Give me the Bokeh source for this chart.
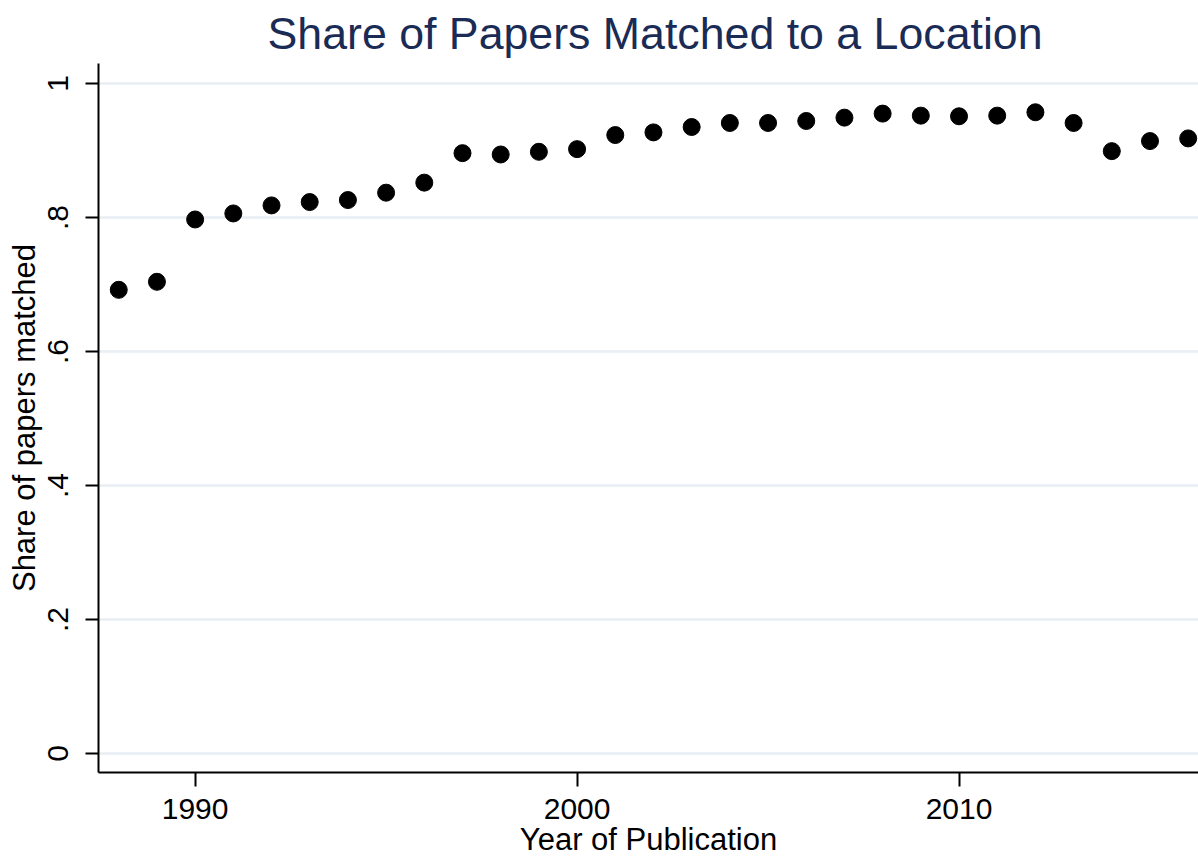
from bokeh.plotting import figure
from bokeh.models import Range1d, FixedTicker, CustomJSTickFormatter
from bokeh.embed import file_html
from bokeh.resources import INLINE

years = [1988, 1989, 1990, 1991, 1992, 1993, 1994, 1995, 1996, 1997,
         1998, 1999, 2000, 2001, 2002, 2003, 2004, 2005, 2006, 2007,
         2008, 2009, 2010, 2011, 2012, 2013, 2014, 2015, 2016]
share = [0.692, 0.704, 0.797, 0.806, 0.818, 0.823, 0.826, 0.837, 0.852, 0.896,
         0.894, 0.898, 0.902, 0.923, 0.927, 0.935, 0.941, 0.941, 0.944, 0.949,
         0.955, 0.952, 0.951, 0.952, 0.957, 0.941, 0.899, 0.914, 0.918]

y_ticks = [0, 0.2, 0.4, 0.6, 0.8, 1.0]
y_tick_labels = ["0", ".2", ".4", ".6", ".8", "1"]
x_ticks = [1990, 2000, 2010]

FONT = "Liberation Sans"

p = figure(width=1198, height=859, output_backend="svg", toolbar_location=None,
           x_range=Range1d(1987.47, 2016.27), y_range=Range1d(-0.0284, 1.0298),
           min_border_left=98, min_border_right=0, min_border_top=63, min_border_bottom=87,
           title="Share of Papers Matched to a Location")
p.outline_line_color = None
p.background_fill_color = "white"
p.border_fill_color = "white"

p.title.text_font = FONT
p.title.text_font_size = "44.7px"
p.title.text_font_style = "normal"
p.title.text_color = "#1a2b55"
p.title.align = "left"
p.title.standoff = 11
p.title.offset = 169

p.scatter(years, share, size=17, color="black", line_color="black")

# axes
p.xaxis.ticker = FixedTicker(ticks=x_ticks)
p.yaxis.ticker = FixedTicker(ticks=y_ticks)
p.yaxis.formatter = CustomJSTickFormatter(
    args=dict(tvals=y_ticks, tlabels=y_tick_labels),
    code="""
    for (let i = 0; i < tvals.length; i++) {
        if (Math.abs(tvals[i] - tick) < 1e-9) { return tlabels[i]; }
    }
    return String(tick);
    """)
p.yaxis.major_label_orientation = "vertical"
for ax in (p.xaxis, p.yaxis):
    ax.axis_line_color = "black"
    ax.axis_line_width = 2
    ax.major_tick_line_color = "black"
    ax.major_tick_line_width = 2
    ax.minor_tick_line_color = None
    ax.major_tick_in = 0
    ax.major_label_text_font = FONT
    ax.major_label_text_font_size = "30px"
    ax.major_label_text_color = "black"
    ax.axis_label_text_font = FONT
    ax.axis_label_text_font_size = "31px"
    ax.axis_label_text_font_style = "normal"
    ax.axis_label_text_color = "black"
p.xaxis.major_tick_out = 14
p.yaxis.major_tick_out = 13
p.xaxis.major_label_standoff = 12
p.yaxis.major_label_standoff = 17
p.xaxis.axis_label = "Year of Publication"
p.yaxis.axis_label = "Share of papers matched"
p.xaxis.axis_label_standoff = 0
p.yaxis.axis_label_standoff = 4

p.xgrid.grid_line_color = None
p.ygrid.ticker = FixedTicker(ticks=y_ticks)
p.ygrid.grid_line_color = "#e8eef4"
p.ygrid.grid_line_width = 2.5

open("out.html", "w").write(file_html(p, INLINE))
